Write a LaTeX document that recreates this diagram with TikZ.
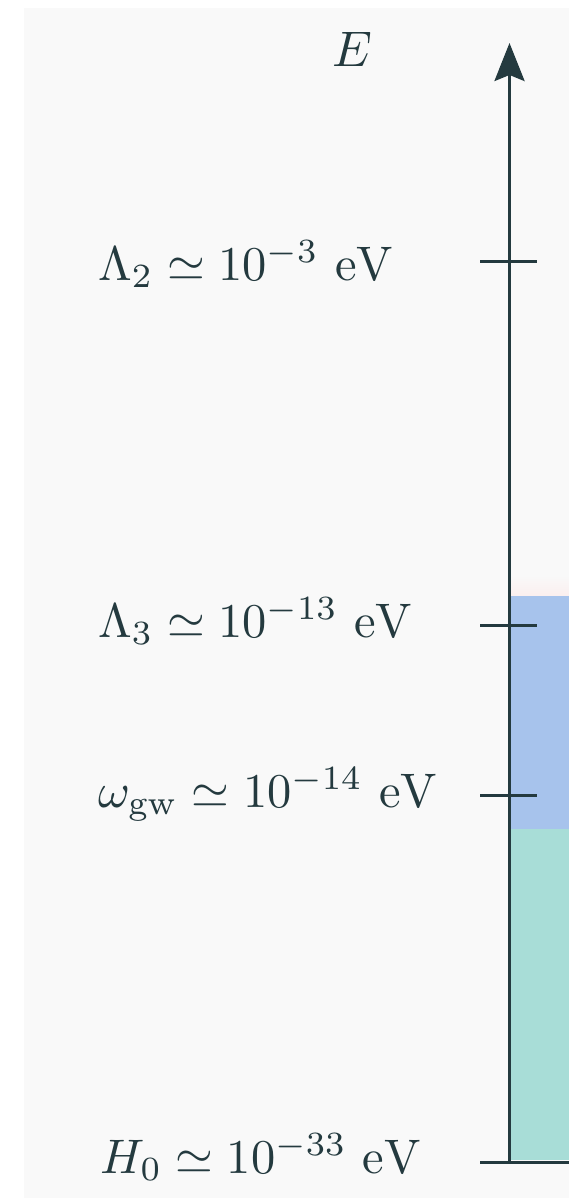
\documentclass[tikz,border=0pt]{standalone}
\usetikzlibrary{arrows.meta}
\definecolor{bgc}{HTML}{F9F9F9}
\definecolor{ink}{HTML}{243A3F}
\definecolor{bluef}{HTML}{A7C3EC}
\definecolor{tealf}{HTML}{A8DDD7}
\definecolor{pinkf}{HTML}{FBEFEF}
\newcommand{\enlg}[1]{\scalebox{4.85}{#1}}
\begin{document}
\begin{tikzpicture}[x=1pt,y=-1pt,
  lbl/.style={anchor=base west,inner sep=0pt,text=ink},
  axisline/.style={draw=ink,line width=3pt},
  tick/.style={draw=ink,line width=3pt}]
\useasboundingbox (0,0) rectangle (569,1198);
\fill[white] (0,0) rectangle (569,1198);
\fill[bgc] (24,8) rectangle (569,1198);
\shade[top color=bgc,bottom color=pinkf] (510,575) rectangle (569,596);
\fill[bluef] (510,596) rectangle (569,829);
\fill[tealf] (510,829) rectangle (569,1160);
\coordinate (base) at (509.5,1162);
\coordinate (top) at (509.5,43);
\draw[axisline,-{Stealth[length=38pt,width=30pt,inset=6pt]}] (base) -- (top);
\node[lbl,anchor=center] (E) at (352,49) {\scalebox{5}{$E$}};
\coordinate (t2a) at (480,261); \coordinate (t2b) at (537,261);
\coordinate (t3a) at (480,625); \coordinate (t3b) at (537,625);
\coordinate (twa) at (480,795); \coordinate (twb) at (537,795);
\coordinate (t0a) at (480,1162); \coordinate (t0b) at (569,1162);
\draw[tick] (t2a) -- (t2b);
\draw[tick] (t3a) -- (t3b);
\draw[tick] (twa) -- (twb);
\draw[tick] (t0a) -- (t0b);
\node[lbl] (L2) at (98,280) {\enlg{$\Lambda_2 \simeq 10^{-3}\ \mathrm{eV}$}};
\node[lbl] (L3) at (98,637) {\enlg{$\Lambda_3 \simeq 10^{-13}\ \mathrm{eV}$}};
\node[lbl] (W) at (98,807) {\enlg{$\omega_{\mathrm{gw}} \simeq 10^{-14}\ \mathrm{eV}$}};
\node[lbl] (H) at (100,1173) {\enlg{$H_0 \simeq 10^{-33}\ \mathrm{eV}$}};
\end{tikzpicture}
\end{document}
